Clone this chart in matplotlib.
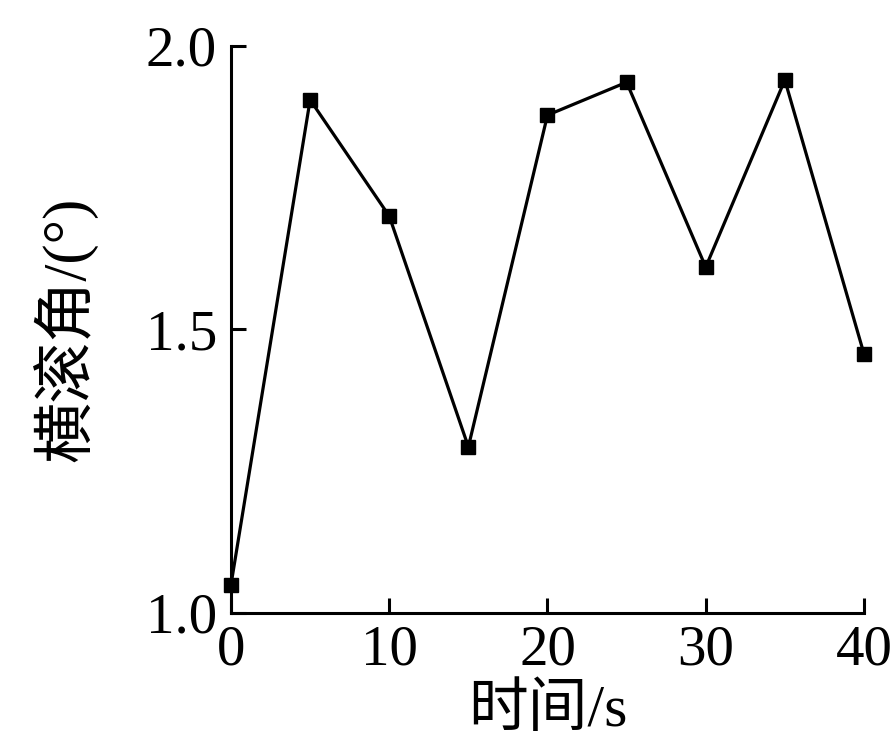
import matplotlib
matplotlib.use("Agg")
import matplotlib.pyplot as plt

# 데이터: 시간(s) vs 横滚角(°)
time_s = [0, 5, 10, 15, 20, 25, 30, 35, 40]
roll_deg = [1.05, 1.905, 1.70, 1.293, 1.878, 1.936, 1.61, 1.94, 1.457]

xticks = [0, 10, 20, 30, 40]
yticks = [1.0, 1.5, 2.0]

FAM = ["Liberation Serif", "Noto Sans CJK SC"]
plt.rcParams["font.family"] = FAM

fig = plt.figure(figsize=(8.94, 7.56), dpi=100)
ax = fig.add_axes([0.2584, 0.1892, 0.708, 0.750])

ax.plot(time_s, roll_deg, color="black", lw=2.3, marker="s", ms=10.5,
        mfc="black", mec="black", clip_on=False, zorder=3)

ax.set_xlim(0, 40)
ax.set_ylim(1.0, 2.0)
ax.set_xticks(xticks)
ax.set_yticks(yticks)
ax.set_yticklabels([f"{v:.1f}" for v in yticks])

for s in ("top", "right"):
    ax.spines[s].set_visible(False)
for s in ("left", "bottom"):
    ax.spines[s].set_linewidth(2.2)

ax.tick_params(direction="in", length=11, width=2.2, labelsize=41, pad=8)
ax.tick_params(axis="y", pad=10)

ax.set_xlabel("时间/s", fontsize=43, family=FAM, labelpad=6)
ax.set_ylabel("横滚角/(°)", fontsize=44, family=FAM, labelpad=34)

fig.savefig("out.png", dpi=100)
